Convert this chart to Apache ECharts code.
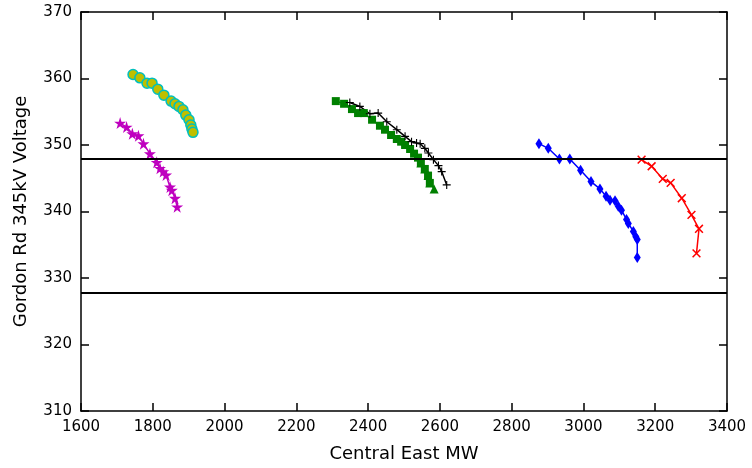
<!DOCTYPE html>
<html>
<head>
<meta charset="utf-8">
<script src="https://cdn.jsdelivr.net/npm/echarts@6/dist/echarts.min.js"></script>
<style>
html,body{margin:0;padding:0;background:#fff;}
#chart{width:752px;height:468px;}
</style>
</head>
<body>
<div id="chart"></div>
<script>
// ---- Data ----
const xTicks = [1600,1800,2000,2200,2400,2600,2800,3000,3200,3400];
const yTicks = [310,320,330,340,350,360,370];
const limitLines = [348, 327.8];

const cyanX = [1745,1764,1784,1798,1814,1831,1851,1862,1873,1884,1892,1901,1906,1909,1912];
const cyanY = [360.6,360.1,359.3,359.3,358.4,357.5,356.6,356.2,355.8,355.3,354.5,353.8,353.0,352.4,351.9];

const magentaX = [1709,1727,1743,1760,1774,1792,1811,1820,1829,1837,1848,1853,1862,1868];
const magentaY = [353.3,352.7,351.7,351.4,350.2,348.7,347.4,346.5,346.0,345.5,343.7,343.2,342.0,340.7];

const greenX = [2310,2333,2355,2372,2388,2411,2433,2447,2464,2480,2492,2503,2517,2528,2539,2547,2558,2567,2572];
const greenY = [356.6,356.2,355.4,354.8,354.8,353.8,352.9,352.3,351.5,350.9,350.5,350.0,349.4,348.7,348.1,347.3,346.4,345.4,344.3];
const greenTriX = [2547,2558,2567,2572,2584];
const greenTriY = [347.3,346.4,345.4,344.3,343.4];

const blackX = [2349,2377,2405,2428,2452,2480,2503,2521,2535,2545,2558,2568,2582,2596,2605,2619];
const blackY = [356.4,355.8,354.7,354.8,353.5,352.3,351.3,350.5,350.3,350.2,349.5,348.8,347.8,346.9,346.0,344.0];

const blueX = [2876,2902,2933,2962,2992,3021,3046,3063,3074,3088,3097,3106,3120,3125,3139,3146,3150,3150];
const blueY = [350.2,349.5,347.9,347.9,346.2,344.5,343.4,342.3,341.7,341.6,340.8,340.2,338.8,338.2,337.0,336.2,335.8,333.1];

const redX = [3162,3190,3221,3243,3274,3301,3322,3315];
const redY = [347.8,346.8,344.9,344.3,342.0,339.5,337.4,333.7];

// ---- Build ----
const zip = (xs, ys) => xs.map((x, i) => [x, ys[i]]);
const FONT = 'DejaVu Sans';
const STAR = 'path://M50,0 L61,35 L98,35 L68,57 L79,91 L50,70 L21,91 L32,57 L2,35 L39,35 Z';
const PLUS = 'path://M0,43 L100,43 L100,57 L0,57 Z M43,0 L57,0 L57,100 L43,100 Z';

function lineSeries(data, color, symbol, size, extra) {
  return Object.assign({
    type: 'line',
    data: data,
    symbol: symbol,
    symbolSize: size,
    showAllSymbol: true,
    animation: false,
    lineStyle: {color: color, width: 1.5},
    itemStyle: {color: color},
    emphasis: {disabled: true}
  }, extra || {});
}

const axisCommon = {
  axisLine: {show: true, onZero: false, lineStyle: {color: '#000', width: 1.5}},
  axisTick: {show: true, inside: true, length: 8, lineStyle: {color: '#000', width: 1.5}},
  splitLine: {show: false}
};

const option = {
  backgroundColor: '#fff',
  animation: false,
  grid: {left: 81, right: 25, top: 12, bottom: 57, containLabel: false},
  xAxis: [
    Object.assign({
      type: 'value', min: xTicks[0], max: xTicks[xTicks.length-1], interval: 200,
      position: 'bottom',
      name: 'Central East MW', nameLocation: 'middle', nameGap: 34,
      nameTextStyle: {fontFamily: FONT, fontSize: 18, color: '#000'},
      axisLabel: {fontFamily: FONT, fontSize: 15, color: '#000', margin: 9,
                  formatter: v => String(v)}
    }, axisCommon),
    Object.assign({
      type: 'value', min: xTicks[0], max: xTicks[xTicks.length-1], interval: 200,
      position: 'top', axisLabel: {show: false}
    }, axisCommon)
  ],
  yAxis: [
    Object.assign({
      type: 'value', min: yTicks[0], max: yTicks[yTicks.length-1], interval: 10,
      position: 'left',
      name: 'Gordon Rd 345kV Voltage', nameLocation: 'middle', nameGap: 51,
      nameRotate: 90,
      nameTextStyle: {fontFamily: FONT, fontSize: 18, color: '#000'},
      axisLabel: {fontFamily: FONT, fontSize: 15, color: '#000', margin: 9,
                  formatter: v => String(v)}
    }, axisCommon),
    Object.assign({
      type: 'value', min: yTicks[0], max: yTicks[yTicks.length-1], interval: 10,
      position: 'right', axisLabel: {show: false}
    }, axisCommon)
  ],
  series: [
    lineSeries([], '#000', 'none', 0, {
      markLine: {
        silent: true, symbol: 'none', animation: false,
        label: {show: false},
        lineStyle: {color: '#000', width: 2, type: 'solid'},
        data: limitLines.map(v => ({yAxis: v}))
      }
    }),
    lineSeries(zip(cyanX, cyanY), '#00bfbf', 'circle', 10, {
      itemStyle: {color: '#bfbf00', borderColor: '#00bfbf', borderWidth: 1.5}
    }),
    lineSeries(zip(magentaX, magentaY), '#bf00bf', STAR, 12),
    lineSeries(zip(greenTriX, greenTriY), '#008000', 'triangle', 9),
    lineSeries(zip(greenX, greenY), '#008000', 'rect', 8),
    lineSeries(zip(blackX, blackY), '#000000', PLUS, 8),
    lineSeries(zip(blueX, blueY), '#0000ff', 'diamond', [7, 11]),
    lineSeries(zip(redX, redY), '#ff0000', PLUS, 11, {symbolRotate: 45})
  ]
};

const chart = echarts.init(document.getElementById('chart'), null, {renderer: 'canvas'});
chart.setOption(option);
</script>
</body>
</html>
